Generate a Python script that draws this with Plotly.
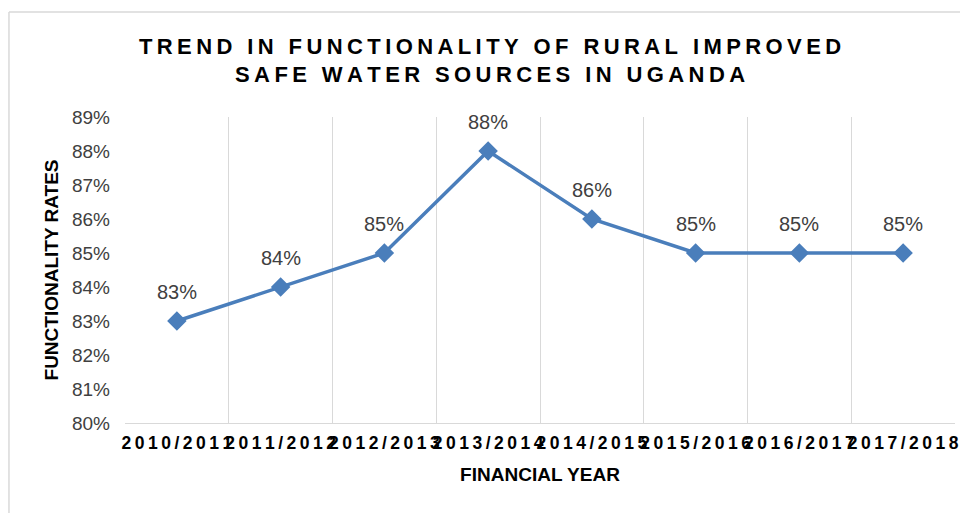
import plotly.graph_objects as go

years = ["2010/2011", "2011/2012", "2012/2013", "2013/2014",
         "2014/2015", "2015/2016", "2016/2017", "2017/2018"]
rates = [0.83, 0.84, 0.85, 0.88, 0.86, 0.85, 0.85, 0.85]
y_ticks = [0.80, 0.81, 0.82, 0.83, 0.84, 0.85, 0.86, 0.87, 0.88, 0.89]

TS = "\u2009"  # thin space, mimics the letter spacing of the original


def spaced(s):
    return TS.join(s)


line_col = "#4a7ebb"
txt_col = "#404040"
grid_col = "#d9d9d9"

fig = go.Figure()
fig.add_trace(go.Scatter(
    x=years, y=rates, mode="lines+markers",
    line=dict(color=line_col, width=3.5),
    marker=dict(symbol="diamond", size=15, color=line_col),
    hoverinfo="skip", showlegend=False,
))

for yr, v in zip(years, rates):
    fig.add_annotation(x=yr, y=v, text=f"{v:.0%}", showarrow=False,
                       yshift=29, font=dict(size=20, color=txt_col))

fig.update_xaxes(
    type="category", tickson="boundaries", range=[-0.5, 7.5],
    tickvals=years, ticktext=[spaced(y) for y in years],
    tickangle=0, automargin=False, ticklabelstandoff=4,
    tickfont=dict(family="Liberation Sans", size=17.5, color="#000000", weight="bold"),
    showgrid=True, gridcolor=grid_col, gridwidth=1,
    showline=True, linecolor=grid_col, linewidth=1,
    ticks="", mirror=False,
    title=dict(text="FINANCIAL YEAR", standoff=15,
               font=dict(family="Liberation Sans", size=19, color="#000000", weight="bold")),
)
fig.update_yaxes(
    range=[0.80, 0.89], tickvals=y_ticks, tickformat=".0%",
    automargin=False,
    tickfont=dict(family="Liberation Sans", size=19, color=txt_col),
    showgrid=False, zeroline=False, showline=False, ticks="",
    ticklabelstandoff=14,
    title=dict(text="FUNCTIONALITY RATES", standoff=8,
               font=dict(family="Liberation Sans", size=19, color="#000000", weight="bold")),
)

# light outer frame of the chart (left and top edges are visible)
fig.add_shape(type="line", xref="paper", yref="paper",
              x0=-0.1398, x1=-0.1398, y0=-0.35, y1=1.343,
              line=dict(color=grid_col, width=1.5))
fig.add_shape(type="line", xref="paper", yref="paper",
              x0=-0.1398, x1=1.03, y0=1.343, y1=1.343,
              line=dict(color=grid_col, width=1.5))

title_lines = ["TREND IN FUNCTIONALITY OF RURAL IMPROVED",
               "SAFE WATER SOURCES IN UGANDA"]
fig.update_layout(
    width=968, height=513,
    paper_bgcolor="white", plot_bgcolor="white",
    margin=dict(l=117, r=21, t=109, b=98),
    title=dict(text="<br>".join(spaced(t) for t in title_lines),
               x=0.498, xanchor="center", y=0.911, yanchor="middle",
               font=dict(family="Liberation Sans", size=22, color="#000000", weight="bold")),
    font=dict(family="Liberation Sans"),
)

fig.write_html("out.html")
